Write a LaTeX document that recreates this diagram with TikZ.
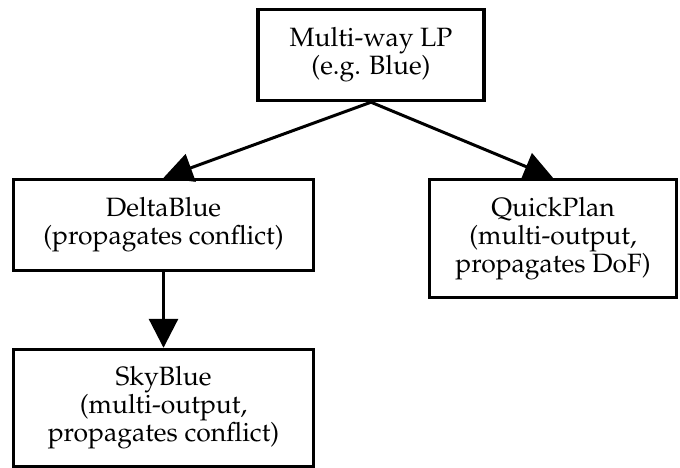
\documentclass[tikz,border=0pt]{standalone}
\usepackage[T1]{fontenc}
\usepackage{mathpazo}
\usetikzlibrary{arrows.meta}

\tikzset{
  box/.style={draw=black, line width=3.4pt, fill=white, align=center,
    inner sep=0pt, font=\fontsize{26.5}{28}\selectfont},
  link/.style={line width=3pt, -{Triangle[length=29pt,width=29pt]}}
}

\begin{document}
\begin{tikzpicture}[x=1pt,y=-1pt]
  \useasboundingbox (0,0) rectangle (680,468);

  % boxes
  \node[box, minimum width=226pt, minimum height=91pt] (lp) at (371,55)
    {Multi-way LP\\(e.g. Blue)};
  \node[box, minimum width=300pt, minimum height=91pt] (delta) at (163.5,225)
    {DeltaBlue\\(propagates conflict)};
  \node[box, minimum width=247pt, minimum height=118pt] (quick) at (553,238.5)
    {QuickPlan\\(multi-output,\\propagates DoF)};
  \node[box, minimum width=300pt, minimum height=117pt] (sky) at (163.5,408)
    {SkyBlue\\(multi-output,\\propagates conflict)};

  % refinement arrows
  \draw[link] (lp.south) -- (delta.north);
  \draw[link] (lp.south) -- (quick.north);
  \draw[link] (delta.south) -- (sky.north);
\end{tikzpicture}
\end{document}
